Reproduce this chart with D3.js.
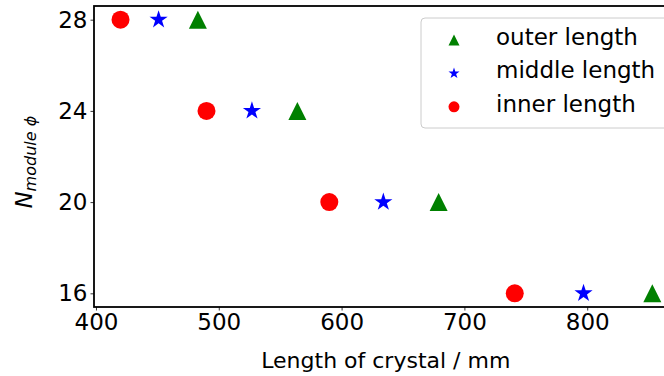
<!DOCTYPE html>
<html>
<head>
<meta charset="utf-8">
<script src="https://cdn.jsdelivr.net/npm/d3@7/dist/d3.min.js"></script>
<style>
    body { margin: 0; background: #fff; }
    svg { display: block; overflow: hidden; font-family: 'DejaVu Sans', sans-serif; }
</style>
</head>
<body>
<div id="chart"></div>
<script>
// values
let nModules = [28, 24, 20, 16];
let innerLength = [420, 490, 590, 741];
let middleLength = [451, 527, 634, 797];
let outerLength = [483, 564, 679, 853];
let xTicks = [400, 500, 600, 700, 800];
let yTicks = [16, 20, 24, 28];

let series = [
    { name: 'outer length', values: outerLength, color: '#008000', shape: 'triangle' },
    { name: 'middle length', values: middleLength, color: '#0000ff', shape: 'star' },
    { name: 'inner length', values: innerLength, color: '#ff0000', shape: 'circle' }
];

let W = 664, H = 376;
let margin = { top: 6, left: 94, bottom: 307, right: 677.6 };

// matplotlib style up-triangle: width == height == marker size
let triangleUp = {
    draw: function (context, size) {
        let h = Math.sqrt(size) / 2;
        context.moveTo(0, -h);
        context.lineTo(h, h);
        context.lineTo(-h, h);
        context.closePath();
    }
};

function symbolFor(shape, ms) {
    if (shape == 'triangle') return d3.symbol().type(triangleUp).size(ms * ms);
    if (shape == 'star') return d3.symbol().type(d3.symbolStar).size((ms * 0.53) * (ms * 0.53) / 0.8908130915292852);
    return d3.symbol().type(d3.symbolCircle).size(Math.PI * (ms / 2) * (ms / 2));
}

let x = d3.scaleLinear().domain([398.4, 873.6]).range([margin.left, margin.right]);
let y = d3.scaleLinear().domain([15.4, 28.6]).range([margin.bottom, margin.top]);

let svg = d3.select('#chart').append('svg')
    .attr('width', W)
    .attr('height', H);

// axes
let xAxis = d3.axisBottom(x).tickValues(xTicks).tickSize(3.5).tickPadding(3);
let yAxis = d3.axisLeft(y).tickValues(yTicks).tickSize(3.5).tickPadding(3);

let gx = svg.append('g')
    .attr('transform', 'translate(0,' + margin.bottom + ')')
    .call(xAxis);
let gy = svg.append('g')
    .attr('transform', 'translate(' + margin.left + ',0)')
    .call(yAxis);

[gx, gy].forEach(function (g) {
    g.select('.domain').remove();
    g.selectAll('.tick line').attr('stroke', '#000').attr('stroke-width', 0.8);
    g.selectAll('.tick text')
        .attr('fill', '#000')
        .style('font-size', '23px')
        .style('font-family', "'DejaVu Sans', sans-serif");
});

// points
let g = svg.append('g');
series.forEach(function (s) {
    g.selectAll(null).data(s.values).enter().append('path')
        .attr('d', symbolFor(s.shape, 18))
        .attr('transform', function (d, i) { return 'translate(' + x(d) + ',' + y(nModules[i]) + ')'; })
        .attr('fill', s.color);
});

// spines
svg.append('rect')
    .attr('x', margin.left)
    .attr('y', margin.top)
    .attr('width', margin.right - margin.left)
    .attr('height', margin.bottom - margin.top)
    .attr('fill', 'none')
    .attr('stroke', '#000')
    .attr('stroke-width', 1.8);

// axis labels
svg.append('text')
    .attr('x', (margin.left + margin.right) / 2)
    .attr('y', 368)
    .attr('text-anchor', 'middle')
    .style('font-size', '22px')
    .text('Length of crystal / mm');

let ylab = svg.append('text')
    .attr('transform', 'translate(32,162) rotate(-90)')
    .attr('text-anchor', 'middle')
    .style('font-style', 'italic');
ylab.append('tspan').style('font-size', '22.5px').text('N');
ylab.append('tspan').style('font-size', '16px').attr('dy', 4).text('module \u03d5');

// legend
let legend = svg.append('g');
legend.append('rect')
    .attr('x', 421)
    .attr('y', 18)
    .attr('width', 260)
    .attr('height', 110)
    .attr('rx', 4)
    .attr('fill', '#fff')
    .attr('fill-opacity', 0.8)
    .attr('stroke', '#cccccc')
    .attr('stroke-width', 1);

let rows = legend.selectAll('g.row').data(series).enter().append('g')
    .attr('class', 'row')
    .attr('transform', function (d, i) { return 'translate(0,' + (40 + i * 33.4) + ')'; });

rows.append('path')
    .attr('d', function (d) { return symbolFor(d.shape, 11)(); })
    .attr('transform', 'translate(454,0)')
    .attr('fill', function (d) { return d.color; });

rows.append('text')
    .attr('x', 496)
    .attr('y', 5)
    .style('font-size', '23px')
    .text(function (d) { return d.name; });
</script>
</body>
</html>
